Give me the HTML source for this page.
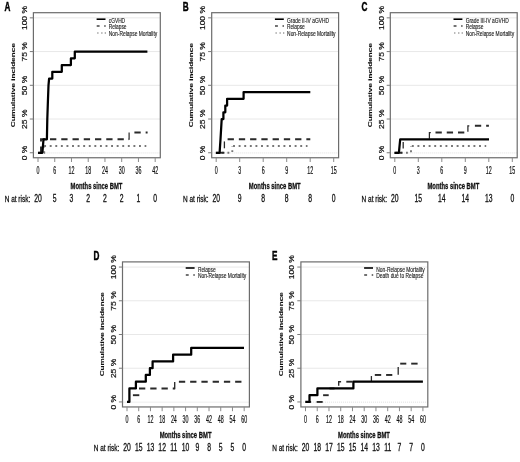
<!DOCTYPE html>
<html lang="en">
<head>
<meta charset="utf-8">
<title>Cumulative incidence curves</title>
<style>
html,body{margin:0;padding:0;background:#fff;}
body{width:520px;height:462px;overflow:hidden;}
svg{display:block;font-family:'Liberation Sans', Arial, sans-serif;filter:blur(0.7px);}
</style>
</head>
<body>
<svg width="520" height="462" viewBox="0 0 520 462">
<rect width="520" height="462" fill="#fff"/>
<g transform="translate(0,0)">
<line x1="33.4" x2="160.3" y1="119.03" y2="119.03" stroke="#e8e8e8" stroke-width="1"/>
<line x1="33.4" x2="160.3" y1="85.3" y2="85.3" stroke="#e8e8e8" stroke-width="1"/>
<line x1="33.4" x2="160.3" y1="51.58" y2="51.58" stroke="#e8e8e8" stroke-width="1"/>
<line x1="33.4" x2="160.3" y1="17.85" y2="17.85" stroke="#e8e8e8" stroke-width="1"/>
<line x1="33.4" x2="160.3" y1="152.95" y2="152.95" stroke="#dedede" stroke-width="1" stroke-dasharray="1 1"/>
<polyline points="38,152.75 44.2,152.75 44.2,146" fill="none" stroke="#767676" stroke-width="1.9" stroke-dasharray="1.9 3.69" stroke-dashoffset="-0.3"/>
<polyline points="44.15,146 146.3,146" fill="none" stroke="#767676" stroke-width="1.9" stroke-dasharray="1.9 3.68" stroke-dashoffset="0"/>
<polyline points="38,152.75 41,152.75 41,139.26 129.1,139.26" fill="none" stroke="#2a2a2a" stroke-width="1.9" stroke-dasharray="6.3 4.95" stroke-dashoffset="-3"/>
<polyline points="128.4,139.26 129.1,139.26 129.1,132.51" fill="none" stroke="#2a2a2a" stroke-width="1.2"/>
<polyline points="134.4,132.51 147.6,132.51" fill="none" stroke="#2a2a2a" stroke-width="1.9" stroke-dasharray="6.3 4.95" stroke-dashoffset="0"/>
<polyline points="38,152.75 42.4,152.75 43.5,139.26 46.9,139.26 47.3,119.03 48,98.79 48.5,85.3 49.1,78.56 52.3,78.56 52.3,71.81 61.8,71.81 61.8,65.06 70.9,65.06 70.9,58.32 74.8,58.32 74.8,51.58 147.4,51.58" fill="none" stroke="#000" stroke-width="2.25" stroke-linejoin="round"/>
<rect x="33.4" y="12.7" width="126.9" height="145.05" fill="none" stroke="#6c6c6c" stroke-width="1.2"/>
<line x1="29.8" x2="33.4" y1="152.75" y2="152.75" stroke="#7a7a7a" stroke-width="1"/>
<text transform="translate(26.6,152.95) rotate(-90) scale(1,0.95)" font-size="8.5" text-anchor="middle" stroke="#111" stroke-width="0.22" fill="#111">0 %</text>
<line x1="29.8" x2="33.4" y1="119.03" y2="119.03" stroke="#7a7a7a" stroke-width="1"/>
<text transform="translate(26.6,119.23) rotate(-90) scale(1,0.95)" font-size="8.5" text-anchor="middle" stroke="#111" stroke-width="0.22" fill="#111">25 %</text>
<line x1="29.8" x2="33.4" y1="85.3" y2="85.3" stroke="#7a7a7a" stroke-width="1"/>
<text transform="translate(26.6,85.5) rotate(-90) scale(1,0.95)" font-size="8.5" text-anchor="middle" stroke="#111" stroke-width="0.22" fill="#111">50 %</text>
<line x1="29.8" x2="33.4" y1="51.58" y2="51.58" stroke="#7a7a7a" stroke-width="1"/>
<text transform="translate(26.6,51.78) rotate(-90) scale(1,0.95)" font-size="8.5" text-anchor="middle" stroke="#111" stroke-width="0.22" fill="#111">75 %</text>
<line x1="29.8" x2="33.4" y1="17.85" y2="17.85" stroke="#7a7a7a" stroke-width="1"/>
<text transform="translate(26.6,18.05) rotate(-90) scale(1,0.95)" font-size="8.5" text-anchor="middle" stroke="#111" stroke-width="0.22" fill="#111">100 %</text>
<text transform="translate(15.1,85.1) rotate(-90) scale(1,0.76)" font-size="8.2" text-anchor="middle" font-weight="bold" stroke="#111" stroke-width="0.12" fill="#111">Cumulative incidence</text>
<line x1="38" x2="38" y1="157.75" y2="162" stroke="#8a8a8a" stroke-width="1"/>
<text transform="translate(38,173.7) scale(0.535,1)" font-size="10.0" text-anchor="middle" stroke="#111" stroke-width="0.22" fill="#111">0</text>
<line x1="54.74" x2="54.74" y1="157.75" y2="162" stroke="#8a8a8a" stroke-width="1"/>
<text transform="translate(54.74,173.7) scale(0.535,1)" font-size="10.0" text-anchor="middle" stroke="#111" stroke-width="0.22" fill="#111">6</text>
<line x1="71.48" x2="71.48" y1="157.75" y2="162" stroke="#8a8a8a" stroke-width="1"/>
<text transform="translate(71.48,173.7) scale(0.535,1)" font-size="10.0" text-anchor="middle" stroke="#111" stroke-width="0.22" fill="#111">12</text>
<line x1="88.22" x2="88.22" y1="157.75" y2="162" stroke="#8a8a8a" stroke-width="1"/>
<text transform="translate(88.22,173.7) scale(0.535,1)" font-size="10.0" text-anchor="middle" stroke="#111" stroke-width="0.22" fill="#111">18</text>
<line x1="104.96" x2="104.96" y1="157.75" y2="162" stroke="#8a8a8a" stroke-width="1"/>
<text transform="translate(104.96,173.7) scale(0.535,1)" font-size="10.0" text-anchor="middle" stroke="#111" stroke-width="0.22" fill="#111">24</text>
<line x1="121.7" x2="121.7" y1="157.75" y2="162" stroke="#8a8a8a" stroke-width="1"/>
<text transform="translate(121.7,173.7) scale(0.535,1)" font-size="10.0" text-anchor="middle" stroke="#111" stroke-width="0.22" fill="#111">30</text>
<line x1="138.44" x2="138.44" y1="157.75" y2="162" stroke="#8a8a8a" stroke-width="1"/>
<text transform="translate(138.44,173.7) scale(0.535,1)" font-size="10.0" text-anchor="middle" stroke="#111" stroke-width="0.22" fill="#111">36</text>
<line x1="155.18" x2="155.18" y1="157.75" y2="162" stroke="#8a8a8a" stroke-width="1"/>
<text transform="translate(155.18,173.7) scale(0.535,1)" font-size="10.0" text-anchor="middle" stroke="#111" stroke-width="0.22" fill="#111">42</text>
<text transform="translate(96.45,189) scale(0.66,1)" font-size="8.9" text-anchor="middle" font-weight="bold" stroke="#111" stroke-width="0.3" fill="#111">Months since BMT</text>
<text transform="translate(4.7,201.6) scale(0.66,1)" font-size="9.8" text-anchor="start" stroke="#111" stroke-width="0.3" fill="#111">N at risk:</text>
<text transform="translate(38,201.7) scale(0.68,1)" font-size="10.0" text-anchor="middle" stroke="#111" stroke-width="0.3" fill="#111">20</text>
<text transform="translate(54.74,201.7) scale(0.68,1)" font-size="10.0" text-anchor="middle" stroke="#111" stroke-width="0.3" fill="#111">5</text>
<text transform="translate(71.48,201.7) scale(0.68,1)" font-size="10.0" text-anchor="middle" stroke="#111" stroke-width="0.3" fill="#111">3</text>
<text transform="translate(88.22,201.7) scale(0.68,1)" font-size="10.0" text-anchor="middle" stroke="#111" stroke-width="0.3" fill="#111">2</text>
<text transform="translate(104.96,201.7) scale(0.68,1)" font-size="10.0" text-anchor="middle" stroke="#111" stroke-width="0.3" fill="#111">2</text>
<text transform="translate(121.7,201.7) scale(0.68,1)" font-size="10.0" text-anchor="middle" stroke="#111" stroke-width="0.3" fill="#111">2</text>
<text transform="translate(138.44,201.7) scale(0.68,1)" font-size="10.0" text-anchor="middle" stroke="#111" stroke-width="0.3" fill="#111">1</text>
<text transform="translate(155.18,201.7) scale(0.68,1)" font-size="10.0" text-anchor="middle" stroke="#111" stroke-width="0.3" fill="#111">0</text>
<text transform="translate(4.5,11.25) scale(0.62,1)" font-size="13.2" text-anchor="start" font-weight="bold" stroke="#000" stroke-width="0.5" fill="#000">A</text>
<line x1="96.6" x2="105.5" y1="19.2" y2="19.2" stroke="#000" stroke-width="1.6"/>
<text x="108.8" y="23.2" font-size="6.9" textLength="16.3" lengthAdjust="spacingAndGlyphs" fill="#222" stroke="#222" stroke-width="0.15">cGVHD</text>
<path d="M96.7 25.9H99.6M104.2 25.9H105.7" stroke="#444" stroke-width="1.5" fill="none"/>
<text x="108.8" y="29.0" font-size="6.9" textLength="17.7" lengthAdjust="spacingAndGlyphs" fill="#222" stroke="#222" stroke-width="0.15">Relapse</text>
<path d="M97.2 33.0h1.3M101.2 33.0h1.3M104.7 33.0h1.3" stroke="#999" stroke-width="1.3" fill="none"/>
<text x="108.8" y="35.7" font-size="6.9" textLength="48.4" lengthAdjust="spacingAndGlyphs" fill="#222" stroke="#222" stroke-width="0.15">Non-Relapse Mortality</text>
</g>
<g transform="translate(178.3,0)">
<line x1="33.4" x2="160.3" y1="119.03" y2="119.03" stroke="#e8e8e8" stroke-width="1"/>
<line x1="33.4" x2="160.3" y1="85.3" y2="85.3" stroke="#e8e8e8" stroke-width="1"/>
<line x1="33.4" x2="160.3" y1="51.58" y2="51.58" stroke="#e8e8e8" stroke-width="1"/>
<line x1="33.4" x2="160.3" y1="17.85" y2="17.85" stroke="#e8e8e8" stroke-width="1"/>
<line x1="33.4" x2="160.3" y1="152.95" y2="152.95" stroke="#dedede" stroke-width="1" stroke-dasharray="1 1"/>
<polyline points="37.9,152.75 54,152.75 54,146" fill="none" stroke="#767676" stroke-width="1.9" stroke-dasharray="1.9 3.69" stroke-dashoffset="-0.05"/>
<polyline points="54.75,146 129.2,146" fill="none" stroke="#767676" stroke-width="1.9" stroke-dasharray="1.9 3.7" stroke-dashoffset="0"/>
<polyline points="37.9,152.75 46.1,152.75" fill="none" stroke="#2a2a2a" stroke-width="1.9" stroke-dasharray="6.3 4.95" stroke-dashoffset="-2.41"/>
<polyline points="46.1,148.3 46.1,141.42" fill="none" stroke="#2a2a2a" stroke-width="1.3"/>
<polyline points="49.3,139.26 132,139.26" fill="none" stroke="#2a2a2a" stroke-width="1.9" stroke-dasharray="6.3 4.95" stroke-dashoffset="0"/>
<polyline points="37.5,152.75 41.3,152.75 42.2,139.26 43.4,119.03 45.1,119.03 45.1,112.28 47,112.28 47,105.53 48.8,105.53 48.8,98.79 65.3,98.79 65.3,92.05 132,92.05" fill="none" stroke="#000" stroke-width="2.25" stroke-linejoin="round"/>
<rect x="33.4" y="12.7" width="126.9" height="145.05" fill="none" stroke="#6c6c6c" stroke-width="1.2"/>
<line x1="29.8" x2="33.4" y1="152.75" y2="152.75" stroke="#7a7a7a" stroke-width="1"/>
<text transform="translate(26.6,152.95) rotate(-90) scale(1,0.95)" font-size="8.5" text-anchor="middle" stroke="#111" stroke-width="0.22" fill="#111">0 %</text>
<line x1="29.8" x2="33.4" y1="119.03" y2="119.03" stroke="#7a7a7a" stroke-width="1"/>
<text transform="translate(26.6,119.23) rotate(-90) scale(1,0.95)" font-size="8.5" text-anchor="middle" stroke="#111" stroke-width="0.22" fill="#111">25 %</text>
<line x1="29.8" x2="33.4" y1="85.3" y2="85.3" stroke="#7a7a7a" stroke-width="1"/>
<text transform="translate(26.6,85.5) rotate(-90) scale(1,0.95)" font-size="8.5" text-anchor="middle" stroke="#111" stroke-width="0.22" fill="#111">50 %</text>
<line x1="29.8" x2="33.4" y1="51.58" y2="51.58" stroke="#7a7a7a" stroke-width="1"/>
<text transform="translate(26.6,51.78) rotate(-90) scale(1,0.95)" font-size="8.5" text-anchor="middle" stroke="#111" stroke-width="0.22" fill="#111">75 %</text>
<line x1="29.8" x2="33.4" y1="17.85" y2="17.85" stroke="#7a7a7a" stroke-width="1"/>
<text transform="translate(26.6,18.05) rotate(-90) scale(1,0.95)" font-size="8.5" text-anchor="middle" stroke="#111" stroke-width="0.22" fill="#111">100 %</text>
<text transform="translate(15.1,85.1) rotate(-90) scale(1,0.76)" font-size="8.2" text-anchor="middle" font-weight="bold" stroke="#111" stroke-width="0.12" fill="#111">Cumulative incidence</text>
<line x1="37.9" x2="37.9" y1="157.75" y2="162" stroke="#8a8a8a" stroke-width="1"/>
<text transform="translate(37.9,173.7) scale(0.535,1)" font-size="10.0" text-anchor="middle" stroke="#111" stroke-width="0.22" fill="#111">0</text>
<line x1="61.4" x2="61.4" y1="157.75" y2="162" stroke="#8a8a8a" stroke-width="1"/>
<text transform="translate(61.4,173.7) scale(0.535,1)" font-size="10.0" text-anchor="middle" stroke="#111" stroke-width="0.22" fill="#111">3</text>
<line x1="84.9" x2="84.9" y1="157.75" y2="162" stroke="#8a8a8a" stroke-width="1"/>
<text transform="translate(84.9,173.7) scale(0.535,1)" font-size="10.0" text-anchor="middle" stroke="#111" stroke-width="0.22" fill="#111">6</text>
<line x1="108.4" x2="108.4" y1="157.75" y2="162" stroke="#8a8a8a" stroke-width="1"/>
<text transform="translate(108.4,173.7) scale(0.535,1)" font-size="10.0" text-anchor="middle" stroke="#111" stroke-width="0.22" fill="#111">9</text>
<line x1="131.9" x2="131.9" y1="157.75" y2="162" stroke="#8a8a8a" stroke-width="1"/>
<text transform="translate(131.9,173.7) scale(0.535,1)" font-size="10.0" text-anchor="middle" stroke="#111" stroke-width="0.22" fill="#111">12</text>
<line x1="155.4" x2="155.4" y1="157.75" y2="162" stroke="#8a8a8a" stroke-width="1"/>
<text transform="translate(155.4,173.7) scale(0.535,1)" font-size="10.0" text-anchor="middle" stroke="#111" stroke-width="0.22" fill="#111">15</text>
<text transform="translate(96.45,189) scale(0.66,1)" font-size="8.9" text-anchor="middle" font-weight="bold" stroke="#111" stroke-width="0.3" fill="#111">Months since BMT</text>
<text transform="translate(4.7,201.6) scale(0.66,1)" font-size="9.8" text-anchor="start" stroke="#111" stroke-width="0.3" fill="#111">N at risk:</text>
<text transform="translate(37.9,201.7) scale(0.68,1)" font-size="10.0" text-anchor="middle" stroke="#111" stroke-width="0.3" fill="#111">20</text>
<text transform="translate(61.4,201.7) scale(0.68,1)" font-size="10.0" text-anchor="middle" stroke="#111" stroke-width="0.3" fill="#111">9</text>
<text transform="translate(84.9,201.7) scale(0.68,1)" font-size="10.0" text-anchor="middle" stroke="#111" stroke-width="0.3" fill="#111">8</text>
<text transform="translate(108.4,201.7) scale(0.68,1)" font-size="10.0" text-anchor="middle" stroke="#111" stroke-width="0.3" fill="#111">8</text>
<text transform="translate(131.9,201.7) scale(0.68,1)" font-size="10.0" text-anchor="middle" stroke="#111" stroke-width="0.3" fill="#111">8</text>
<text transform="translate(155.4,201.7) scale(0.68,1)" font-size="10.0" text-anchor="middle" stroke="#111" stroke-width="0.3" fill="#111">0</text>
<text transform="translate(4.5,11.25) scale(0.62,1)" font-size="13.2" text-anchor="start" font-weight="bold" stroke="#000" stroke-width="0.5" fill="#000">B</text>
<line x1="96.6" x2="105.5" y1="19.2" y2="19.2" stroke="#000" stroke-width="1.6"/>
<text x="108.8" y="23.2" font-size="6.9" textLength="41.8" lengthAdjust="spacingAndGlyphs" fill="#222" stroke="#222" stroke-width="0.15">Grade II-IV aGVHD</text>
<path d="M96.7 25.9H99.6M104.2 25.9H105.7" stroke="#444" stroke-width="1.5" fill="none"/>
<text x="108.8" y="29.0" font-size="6.9" textLength="17.7" lengthAdjust="spacingAndGlyphs" fill="#222" stroke="#222" stroke-width="0.15">Relapse</text>
<path d="M97.2 33.0h1.3M101.2 33.0h1.3M104.7 33.0h1.3" stroke="#999" stroke-width="1.3" fill="none"/>
<text x="108.8" y="35.7" font-size="6.9" textLength="48.4" lengthAdjust="spacingAndGlyphs" fill="#222" stroke="#222" stroke-width="0.15">Non-Relapse Mortality</text>
</g>
<g transform="translate(356.9,0)">
<line x1="33.4" x2="160.3" y1="119.03" y2="119.03" stroke="#e8e8e8" stroke-width="1"/>
<line x1="33.4" x2="160.3" y1="85.3" y2="85.3" stroke="#e8e8e8" stroke-width="1"/>
<line x1="33.4" x2="160.3" y1="51.58" y2="51.58" stroke="#e8e8e8" stroke-width="1"/>
<line x1="33.4" x2="160.3" y1="17.85" y2="17.85" stroke="#e8e8e8" stroke-width="1"/>
<line x1="33.4" x2="160.3" y1="152.95" y2="152.95" stroke="#dedede" stroke-width="1" stroke-dasharray="1 1"/>
<polyline points="37.9,152.75 54.1,152.75 54.1,146" fill="none" stroke="#767676" stroke-width="1.9" stroke-dasharray="1.9 3.69" stroke-dashoffset="0"/>
<polyline points="54.95,146 129.3,146" fill="none" stroke="#767676" stroke-width="1.9" stroke-dasharray="1.9 3.7" stroke-dashoffset="0"/>
<polyline points="37.9,152.75 46.3,152.75" fill="none" stroke="#2a2a2a" stroke-width="1.9" stroke-dasharray="6.3 4.95" stroke-dashoffset="-1.35"/>
<polyline points="46.3,148.57 46.3,142.09" fill="none" stroke="#2a2a2a" stroke-width="1.3"/>
<polyline points="72.5,138.86 72.5,132.51 73.9,132.51" fill="none" stroke="#2a2a2a" stroke-width="1.25"/>
<polyline points="78.6,132.51 111,132.51" fill="none" stroke="#2a2a2a" stroke-width="1.9" stroke-dasharray="6.3 4.95" stroke-dashoffset="0"/>
<polyline points="111,131.71 111,125.77 112.4,125.77" fill="none" stroke="#2a2a2a" stroke-width="1.25"/>
<polyline points="118,125.77 132,125.77" fill="none" stroke="#2a2a2a" stroke-width="1.9" stroke-dasharray="6.3 4.95" stroke-dashoffset="0"/>
<polyline points="37.5,152.75 42,152.75 43.3,139.26 132.1,139.26" fill="none" stroke="#000" stroke-width="2.25" stroke-linejoin="round"/>
<rect x="33.4" y="12.7" width="126.9" height="145.05" fill="none" stroke="#6c6c6c" stroke-width="1.2"/>
<line x1="29.8" x2="33.4" y1="152.75" y2="152.75" stroke="#7a7a7a" stroke-width="1"/>
<text transform="translate(26.6,152.95) rotate(-90) scale(1,0.95)" font-size="8.5" text-anchor="middle" stroke="#111" stroke-width="0.22" fill="#111">0 %</text>
<line x1="29.8" x2="33.4" y1="119.03" y2="119.03" stroke="#7a7a7a" stroke-width="1"/>
<text transform="translate(26.6,119.23) rotate(-90) scale(1,0.95)" font-size="8.5" text-anchor="middle" stroke="#111" stroke-width="0.22" fill="#111">25 %</text>
<line x1="29.8" x2="33.4" y1="85.3" y2="85.3" stroke="#7a7a7a" stroke-width="1"/>
<text transform="translate(26.6,85.5) rotate(-90) scale(1,0.95)" font-size="8.5" text-anchor="middle" stroke="#111" stroke-width="0.22" fill="#111">50 %</text>
<line x1="29.8" x2="33.4" y1="51.58" y2="51.58" stroke="#7a7a7a" stroke-width="1"/>
<text transform="translate(26.6,51.78) rotate(-90) scale(1,0.95)" font-size="8.5" text-anchor="middle" stroke="#111" stroke-width="0.22" fill="#111">75 %</text>
<line x1="29.8" x2="33.4" y1="17.85" y2="17.85" stroke="#7a7a7a" stroke-width="1"/>
<text transform="translate(26.6,18.05) rotate(-90) scale(1,0.95)" font-size="8.5" text-anchor="middle" stroke="#111" stroke-width="0.22" fill="#111">100 %</text>
<text transform="translate(15.1,85.1) rotate(-90) scale(1,0.76)" font-size="8.2" text-anchor="middle" font-weight="bold" stroke="#111" stroke-width="0.12" fill="#111">Cumulative incidence</text>
<line x1="37.9" x2="37.9" y1="157.75" y2="162" stroke="#8a8a8a" stroke-width="1"/>
<text transform="translate(37.9,173.7) scale(0.535,1)" font-size="10.0" text-anchor="middle" stroke="#111" stroke-width="0.22" fill="#111">0</text>
<line x1="61.4" x2="61.4" y1="157.75" y2="162" stroke="#8a8a8a" stroke-width="1"/>
<text transform="translate(61.4,173.7) scale(0.535,1)" font-size="10.0" text-anchor="middle" stroke="#111" stroke-width="0.22" fill="#111">3</text>
<line x1="84.9" x2="84.9" y1="157.75" y2="162" stroke="#8a8a8a" stroke-width="1"/>
<text transform="translate(84.9,173.7) scale(0.535,1)" font-size="10.0" text-anchor="middle" stroke="#111" stroke-width="0.22" fill="#111">6</text>
<line x1="108.4" x2="108.4" y1="157.75" y2="162" stroke="#8a8a8a" stroke-width="1"/>
<text transform="translate(108.4,173.7) scale(0.535,1)" font-size="10.0" text-anchor="middle" stroke="#111" stroke-width="0.22" fill="#111">9</text>
<line x1="131.9" x2="131.9" y1="157.75" y2="162" stroke="#8a8a8a" stroke-width="1"/>
<text transform="translate(131.9,173.7) scale(0.535,1)" font-size="10.0" text-anchor="middle" stroke="#111" stroke-width="0.22" fill="#111">12</text>
<line x1="155.4" x2="155.4" y1="157.75" y2="162" stroke="#8a8a8a" stroke-width="1"/>
<text transform="translate(155.4,173.7) scale(0.535,1)" font-size="10.0" text-anchor="middle" stroke="#111" stroke-width="0.22" fill="#111">15</text>
<text transform="translate(96.45,189) scale(0.66,1)" font-size="8.9" text-anchor="middle" font-weight="bold" stroke="#111" stroke-width="0.3" fill="#111">Months since BMT</text>
<text transform="translate(4.7,201.6) scale(0.66,1)" font-size="9.8" text-anchor="start" stroke="#111" stroke-width="0.3" fill="#111">N at risk:</text>
<text transform="translate(37.9,201.7) scale(0.68,1)" font-size="10.0" text-anchor="middle" stroke="#111" stroke-width="0.3" fill="#111">20</text>
<text transform="translate(61.4,201.7) scale(0.68,1)" font-size="10.0" text-anchor="middle" stroke="#111" stroke-width="0.3" fill="#111">15</text>
<text transform="translate(84.9,201.7) scale(0.68,1)" font-size="10.0" text-anchor="middle" stroke="#111" stroke-width="0.3" fill="#111">14</text>
<text transform="translate(108.4,201.7) scale(0.68,1)" font-size="10.0" text-anchor="middle" stroke="#111" stroke-width="0.3" fill="#111">14</text>
<text transform="translate(131.9,201.7) scale(0.68,1)" font-size="10.0" text-anchor="middle" stroke="#111" stroke-width="0.3" fill="#111">13</text>
<text transform="translate(155.4,201.7) scale(0.68,1)" font-size="10.0" text-anchor="middle" stroke="#111" stroke-width="0.3" fill="#111">0</text>
<text transform="translate(4.5,11.25) scale(0.62,1)" font-size="13.2" text-anchor="start" font-weight="bold" stroke="#000" stroke-width="0.5" fill="#000">C</text>
<line x1="96.6" x2="105.5" y1="19.2" y2="19.2" stroke="#000" stroke-width="1.6"/>
<text x="108.8" y="23.2" font-size="6.9" textLength="43.0" lengthAdjust="spacingAndGlyphs" fill="#222" stroke="#222" stroke-width="0.15">Grade III-IV aGVHD</text>
<path d="M96.7 25.9H99.6M104.2 25.9H105.7" stroke="#444" stroke-width="1.5" fill="none"/>
<text x="108.8" y="29.0" font-size="6.9" textLength="17.7" lengthAdjust="spacingAndGlyphs" fill="#222" stroke="#222" stroke-width="0.15">Relapse</text>
<path d="M97.2 33.0h1.3M101.2 33.0h1.3M104.7 33.0h1.3" stroke="#999" stroke-width="1.3" fill="none"/>
<text x="108.8" y="35.7" font-size="6.9" textLength="48.4" lengthAdjust="spacingAndGlyphs" fill="#222" stroke="#222" stroke-width="0.15">Non-Relapse Mortality</text>
</g>
<g transform="translate(89.1,249.2)">
<line x1="33.4" x2="160.3" y1="119.03" y2="119.03" stroke="#e8e8e8" stroke-width="1"/>
<line x1="33.4" x2="160.3" y1="85.3" y2="85.3" stroke="#e8e8e8" stroke-width="1"/>
<line x1="33.4" x2="160.3" y1="51.58" y2="51.58" stroke="#e8e8e8" stroke-width="1"/>
<line x1="33.4" x2="160.3" y1="17.85" y2="17.85" stroke="#e8e8e8" stroke-width="1"/>
<line x1="33.4" x2="160.3" y1="152.95" y2="152.95" stroke="#dedede" stroke-width="1" stroke-dasharray="1 1"/>
<polyline points="43.8,146 50.2,146" fill="none" stroke="#2a2a2a" stroke-width="1.9"/>
<polyline points="49.9,139.26 85.6,139.26" fill="none" stroke="#2a2a2a" stroke-width="1.9" stroke-dasharray="6.3 4.95" stroke-dashoffset="0"/>
<polyline points="84.9,139.26 85.6,139.26 85.6,132.92" fill="none" stroke="#2a2a2a" stroke-width="1.35"/>
<polyline points="89.8,132.51 154.9,132.51" fill="none" stroke="#2a2a2a" stroke-width="1.9" stroke-dasharray="6.3 4.95" stroke-dashoffset="0"/>
<polyline points="37.9,152.75 40.3,152.75 40.3,139.26 46.8,139.26 46.8,132.51 56.7,132.51 56.7,125.77 60.8,125.77 60.8,119.03 63.5,119.03 63.5,112.28 84,112.28 84,105.53 102.1,105.53 102.1,98.79 154.9,98.79" fill="none" stroke="#000" stroke-width="2.25" stroke-linejoin="round"/>
<rect x="33.4" y="12.7" width="126.9" height="145.05" fill="none" stroke="#6c6c6c" stroke-width="1.2"/>
<line x1="29.8" x2="33.4" y1="152.75" y2="152.75" stroke="#7a7a7a" stroke-width="1"/>
<text transform="translate(26.6,152.95) rotate(-90) scale(1,0.95)" font-size="8.5" text-anchor="middle" stroke="#111" stroke-width="0.22" fill="#111">0 %</text>
<line x1="29.8" x2="33.4" y1="119.03" y2="119.03" stroke="#7a7a7a" stroke-width="1"/>
<text transform="translate(26.6,119.23) rotate(-90) scale(1,0.95)" font-size="8.5" text-anchor="middle" stroke="#111" stroke-width="0.22" fill="#111">25 %</text>
<line x1="29.8" x2="33.4" y1="85.3" y2="85.3" stroke="#7a7a7a" stroke-width="1"/>
<text transform="translate(26.6,85.5) rotate(-90) scale(1,0.95)" font-size="8.5" text-anchor="middle" stroke="#111" stroke-width="0.22" fill="#111">50 %</text>
<line x1="29.8" x2="33.4" y1="51.58" y2="51.58" stroke="#7a7a7a" stroke-width="1"/>
<text transform="translate(26.6,51.78) rotate(-90) scale(1,0.95)" font-size="8.5" text-anchor="middle" stroke="#111" stroke-width="0.22" fill="#111">75 %</text>
<line x1="29.8" x2="33.4" y1="17.85" y2="17.85" stroke="#7a7a7a" stroke-width="1"/>
<text transform="translate(26.6,18.05) rotate(-90) scale(1,0.95)" font-size="8.5" text-anchor="middle" stroke="#111" stroke-width="0.22" fill="#111">100 %</text>
<text transform="translate(15.1,85.1) rotate(-90) scale(1,0.76)" font-size="8.2" text-anchor="middle" font-weight="bold" stroke="#111" stroke-width="0.12" fill="#111">Cumulative incidence</text>
<line x1="37.9" x2="37.9" y1="157.75" y2="162" stroke="#8a8a8a" stroke-width="1"/>
<text transform="translate(37.9,173.7) scale(0.535,1)" font-size="10.0" text-anchor="middle" stroke="#111" stroke-width="0.22" fill="#111">0</text>
<line x1="49.62" x2="49.62" y1="157.75" y2="162" stroke="#8a8a8a" stroke-width="1"/>
<text transform="translate(49.62,173.7) scale(0.535,1)" font-size="10.0" text-anchor="middle" stroke="#111" stroke-width="0.22" fill="#111">6</text>
<line x1="61.34" x2="61.34" y1="157.75" y2="162" stroke="#8a8a8a" stroke-width="1"/>
<text transform="translate(61.34,173.7) scale(0.535,1)" font-size="10.0" text-anchor="middle" stroke="#111" stroke-width="0.22" fill="#111">12</text>
<line x1="73.05" x2="73.05" y1="157.75" y2="162" stroke="#8a8a8a" stroke-width="1"/>
<text transform="translate(73.05,173.7) scale(0.535,1)" font-size="10.0" text-anchor="middle" stroke="#111" stroke-width="0.22" fill="#111">18</text>
<line x1="84.77" x2="84.77" y1="157.75" y2="162" stroke="#8a8a8a" stroke-width="1"/>
<text transform="translate(84.77,173.7) scale(0.535,1)" font-size="10.0" text-anchor="middle" stroke="#111" stroke-width="0.22" fill="#111">24</text>
<line x1="96.49" x2="96.49" y1="157.75" y2="162" stroke="#8a8a8a" stroke-width="1"/>
<text transform="translate(96.49,173.7) scale(0.535,1)" font-size="10.0" text-anchor="middle" stroke="#111" stroke-width="0.22" fill="#111">30</text>
<line x1="108.21" x2="108.21" y1="157.75" y2="162" stroke="#8a8a8a" stroke-width="1"/>
<text transform="translate(108.21,173.7) scale(0.535,1)" font-size="10.0" text-anchor="middle" stroke="#111" stroke-width="0.22" fill="#111">36</text>
<line x1="119.93" x2="119.93" y1="157.75" y2="162" stroke="#8a8a8a" stroke-width="1"/>
<text transform="translate(119.93,173.7) scale(0.535,1)" font-size="10.0" text-anchor="middle" stroke="#111" stroke-width="0.22" fill="#111">42</text>
<line x1="131.64" x2="131.64" y1="157.75" y2="162" stroke="#8a8a8a" stroke-width="1"/>
<text transform="translate(131.64,173.7) scale(0.535,1)" font-size="10.0" text-anchor="middle" stroke="#111" stroke-width="0.22" fill="#111">48</text>
<line x1="143.36" x2="143.36" y1="157.75" y2="162" stroke="#8a8a8a" stroke-width="1"/>
<text transform="translate(143.36,173.7) scale(0.535,1)" font-size="10.0" text-anchor="middle" stroke="#111" stroke-width="0.22" fill="#111">54</text>
<line x1="155.08" x2="155.08" y1="157.75" y2="162" stroke="#8a8a8a" stroke-width="1"/>
<text transform="translate(155.08,173.7) scale(0.535,1)" font-size="10.0" text-anchor="middle" stroke="#111" stroke-width="0.22" fill="#111">60</text>
<text transform="translate(96.45,189) scale(0.66,1)" font-size="8.9" text-anchor="middle" font-weight="bold" stroke="#111" stroke-width="0.3" fill="#111">Months since BMT</text>
<text transform="translate(4.7,201.6) scale(0.66,1)" font-size="9.8" text-anchor="start" stroke="#111" stroke-width="0.3" fill="#111">N at risk:</text>
<text transform="translate(37.9,201.7) scale(0.68,1)" font-size="10.0" text-anchor="middle" stroke="#111" stroke-width="0.3" fill="#111">20</text>
<text transform="translate(49.62,201.7) scale(0.68,1)" font-size="10.0" text-anchor="middle" stroke="#111" stroke-width="0.3" fill="#111">15</text>
<text transform="translate(61.34,201.7) scale(0.68,1)" font-size="10.0" text-anchor="middle" stroke="#111" stroke-width="0.3" fill="#111">13</text>
<text transform="translate(73.05,201.7) scale(0.68,1)" font-size="10.0" text-anchor="middle" stroke="#111" stroke-width="0.3" fill="#111">12</text>
<text transform="translate(84.77,201.7) scale(0.68,1)" font-size="10.0" text-anchor="middle" stroke="#111" stroke-width="0.3" fill="#111">11</text>
<text transform="translate(96.49,201.7) scale(0.68,1)" font-size="10.0" text-anchor="middle" stroke="#111" stroke-width="0.3" fill="#111">10</text>
<text transform="translate(108.21,201.7) scale(0.68,1)" font-size="10.0" text-anchor="middle" stroke="#111" stroke-width="0.3" fill="#111">9</text>
<text transform="translate(119.93,201.7) scale(0.68,1)" font-size="10.0" text-anchor="middle" stroke="#111" stroke-width="0.3" fill="#111">8</text>
<text transform="translate(131.64,201.7) scale(0.68,1)" font-size="10.0" text-anchor="middle" stroke="#111" stroke-width="0.3" fill="#111">5</text>
<text transform="translate(143.36,201.7) scale(0.68,1)" font-size="10.0" text-anchor="middle" stroke="#111" stroke-width="0.3" fill="#111">5</text>
<text transform="translate(155.08,201.7) scale(0.68,1)" font-size="10.0" text-anchor="middle" stroke="#111" stroke-width="0.3" fill="#111">0</text>
<text transform="translate(4.5,11.25) scale(0.62,1)" font-size="13.2" text-anchor="start" font-weight="bold" stroke="#000" stroke-width="0.5" fill="#000">D</text>
<line x1="96.6" x2="105.5" y1="18.8" y2="18.8" stroke="#000" stroke-width="1.6"/>
<text x="108.8" y="22.7" font-size="6.9" textLength="17.7" lengthAdjust="spacingAndGlyphs" fill="#222" stroke="#222" stroke-width="0.15">Relapse</text>
<path d="M96.7 25.7H99.6M104.2 25.7H105.7" stroke="#444" stroke-width="1.5" fill="none"/>
<text x="108.8" y="28.6" font-size="6.9" textLength="48.4" lengthAdjust="spacingAndGlyphs" fill="#222" stroke="#222" stroke-width="0.15">Non-Relapse Mortality</text>
</g>
<g transform="translate(267.5,249.2)">
<line x1="33.4" x2="160.3" y1="119.03" y2="119.03" stroke="#e8e8e8" stroke-width="1"/>
<line x1="33.4" x2="160.3" y1="85.3" y2="85.3" stroke="#e8e8e8" stroke-width="1"/>
<line x1="33.4" x2="160.3" y1="51.58" y2="51.58" stroke="#e8e8e8" stroke-width="1"/>
<line x1="33.4" x2="160.3" y1="17.85" y2="17.85" stroke="#e8e8e8" stroke-width="1"/>
<line x1="33.4" x2="160.3" y1="152.95" y2="152.95" stroke="#dedede" stroke-width="1" stroke-dasharray="1 1"/>
<polyline points="38.3,152.75 43.6,152.75" fill="none" stroke="#2a2a2a" stroke-width="1.9"/>
<polyline points="49.1,152.75 55.2,152.75" fill="none" stroke="#2a2a2a" stroke-width="1.9"/>
<polyline points="55.6,146 61.2,146" fill="none" stroke="#2a2a2a" stroke-width="1.9"/>
<polyline points="62,139.26 67,139.26" fill="none" stroke="#2a2a2a" stroke-width="1.9"/>
<polyline points="71.2,136.56 71.2,132.51 73.6,132.51" fill="none" stroke="#2a2a2a" stroke-width="1.35"/>
<polyline points="78.8,132.51 85,132.51" fill="none" stroke="#2a2a2a" stroke-width="1.9"/>
<polyline points="103.9,132.11 103.9,126.85" fill="none" stroke="#2a2a2a" stroke-width="1.3"/>
<polyline points="107.3,125.77 113.7,125.77" fill="none" stroke="#2a2a2a" stroke-width="1.9"/>
<polyline points="118.6,125.77 124.8,125.77" fill="none" stroke="#2a2a2a" stroke-width="1.9"/>
<polyline points="130.7,125.5 130.7,117.68" fill="none" stroke="#2a2a2a" stroke-width="1.3"/>
<polyline points="132.7,114.44 138.8,114.44" fill="none" stroke="#2a2a2a" stroke-width="1.9"/>
<polyline points="143.7,114.44 150.1,114.44" fill="none" stroke="#2a2a2a" stroke-width="1.9"/>
<polyline points="37.8,152.75 42,152.75 42,146 49.9,146 49.9,139.26 85.9,139.26 85.9,132.51 155.4,132.51" fill="none" stroke="#000" stroke-width="2.25" stroke-linejoin="round"/>
<rect x="33.4" y="12.7" width="126.9" height="145.05" fill="none" stroke="#6c6c6c" stroke-width="1.2"/>
<line x1="29.8" x2="33.4" y1="152.75" y2="152.75" stroke="#7a7a7a" stroke-width="1"/>
<text transform="translate(26.6,152.95) rotate(-90) scale(1,0.95)" font-size="8.5" text-anchor="middle" stroke="#111" stroke-width="0.22" fill="#111">0 %</text>
<line x1="29.8" x2="33.4" y1="119.03" y2="119.03" stroke="#7a7a7a" stroke-width="1"/>
<text transform="translate(26.6,119.23) rotate(-90) scale(1,0.95)" font-size="8.5" text-anchor="middle" stroke="#111" stroke-width="0.22" fill="#111">25 %</text>
<line x1="29.8" x2="33.4" y1="85.3" y2="85.3" stroke="#7a7a7a" stroke-width="1"/>
<text transform="translate(26.6,85.5) rotate(-90) scale(1,0.95)" font-size="8.5" text-anchor="middle" stroke="#111" stroke-width="0.22" fill="#111">50 %</text>
<line x1="29.8" x2="33.4" y1="51.58" y2="51.58" stroke="#7a7a7a" stroke-width="1"/>
<text transform="translate(26.6,51.78) rotate(-90) scale(1,0.95)" font-size="8.5" text-anchor="middle" stroke="#111" stroke-width="0.22" fill="#111">75 %</text>
<line x1="29.8" x2="33.4" y1="17.85" y2="17.85" stroke="#7a7a7a" stroke-width="1"/>
<text transform="translate(26.6,18.05) rotate(-90) scale(1,0.95)" font-size="8.5" text-anchor="middle" stroke="#111" stroke-width="0.22" fill="#111">100 %</text>
<text transform="translate(15.1,85.1) rotate(-90) scale(1,0.76)" font-size="8.2" text-anchor="middle" font-weight="bold" stroke="#111" stroke-width="0.12" fill="#111">Cumulative incidence</text>
<line x1="38" x2="38" y1="157.75" y2="162" stroke="#8a8a8a" stroke-width="1"/>
<text transform="translate(38,173.7) scale(0.535,1)" font-size="10.0" text-anchor="middle" stroke="#111" stroke-width="0.22" fill="#111">0</text>
<line x1="49.74" x2="49.74" y1="157.75" y2="162" stroke="#8a8a8a" stroke-width="1"/>
<text transform="translate(49.74,173.7) scale(0.535,1)" font-size="10.0" text-anchor="middle" stroke="#111" stroke-width="0.22" fill="#111">6</text>
<line x1="61.48" x2="61.48" y1="157.75" y2="162" stroke="#8a8a8a" stroke-width="1"/>
<text transform="translate(61.48,173.7) scale(0.535,1)" font-size="10.0" text-anchor="middle" stroke="#111" stroke-width="0.22" fill="#111">12</text>
<line x1="73.23" x2="73.23" y1="157.75" y2="162" stroke="#8a8a8a" stroke-width="1"/>
<text transform="translate(73.23,173.7) scale(0.535,1)" font-size="10.0" text-anchor="middle" stroke="#111" stroke-width="0.22" fill="#111">18</text>
<line x1="84.97" x2="84.97" y1="157.75" y2="162" stroke="#8a8a8a" stroke-width="1"/>
<text transform="translate(84.97,173.7) scale(0.535,1)" font-size="10.0" text-anchor="middle" stroke="#111" stroke-width="0.22" fill="#111">24</text>
<line x1="96.71" x2="96.71" y1="157.75" y2="162" stroke="#8a8a8a" stroke-width="1"/>
<text transform="translate(96.71,173.7) scale(0.535,1)" font-size="10.0" text-anchor="middle" stroke="#111" stroke-width="0.22" fill="#111">30</text>
<line x1="108.45" x2="108.45" y1="157.75" y2="162" stroke="#8a8a8a" stroke-width="1"/>
<text transform="translate(108.45,173.7) scale(0.535,1)" font-size="10.0" text-anchor="middle" stroke="#111" stroke-width="0.22" fill="#111">36</text>
<line x1="120.19" x2="120.19" y1="157.75" y2="162" stroke="#8a8a8a" stroke-width="1"/>
<text transform="translate(120.19,173.7) scale(0.535,1)" font-size="10.0" text-anchor="middle" stroke="#111" stroke-width="0.22" fill="#111">42</text>
<line x1="131.94" x2="131.94" y1="157.75" y2="162" stroke="#8a8a8a" stroke-width="1"/>
<text transform="translate(131.94,173.7) scale(0.535,1)" font-size="10.0" text-anchor="middle" stroke="#111" stroke-width="0.22" fill="#111">48</text>
<line x1="143.68" x2="143.68" y1="157.75" y2="162" stroke="#8a8a8a" stroke-width="1"/>
<text transform="translate(143.68,173.7) scale(0.535,1)" font-size="10.0" text-anchor="middle" stroke="#111" stroke-width="0.22" fill="#111">54</text>
<line x1="155.42" x2="155.42" y1="157.75" y2="162" stroke="#8a8a8a" stroke-width="1"/>
<text transform="translate(155.42,173.7) scale(0.535,1)" font-size="10.0" text-anchor="middle" stroke="#111" stroke-width="0.22" fill="#111">60</text>
<text transform="translate(96.45,189) scale(0.66,1)" font-size="8.9" text-anchor="middle" font-weight="bold" stroke="#111" stroke-width="0.3" fill="#111">Months since BMT</text>
<text transform="translate(4.7,201.6) scale(0.66,1)" font-size="9.8" text-anchor="start" stroke="#111" stroke-width="0.3" fill="#111">N at risk:</text>
<text transform="translate(38,201.7) scale(0.68,1)" font-size="10.0" text-anchor="middle" stroke="#111" stroke-width="0.3" fill="#111">20</text>
<text transform="translate(49.74,201.7) scale(0.68,1)" font-size="10.0" text-anchor="middle" stroke="#111" stroke-width="0.3" fill="#111">18</text>
<text transform="translate(61.48,201.7) scale(0.68,1)" font-size="10.0" text-anchor="middle" stroke="#111" stroke-width="0.3" fill="#111">17</text>
<text transform="translate(73.23,201.7) scale(0.68,1)" font-size="10.0" text-anchor="middle" stroke="#111" stroke-width="0.3" fill="#111">15</text>
<text transform="translate(84.97,201.7) scale(0.68,1)" font-size="10.0" text-anchor="middle" stroke="#111" stroke-width="0.3" fill="#111">15</text>
<text transform="translate(96.71,201.7) scale(0.68,1)" font-size="10.0" text-anchor="middle" stroke="#111" stroke-width="0.3" fill="#111">14</text>
<text transform="translate(108.45,201.7) scale(0.68,1)" font-size="10.0" text-anchor="middle" stroke="#111" stroke-width="0.3" fill="#111">13</text>
<text transform="translate(120.19,201.7) scale(0.68,1)" font-size="10.0" text-anchor="middle" stroke="#111" stroke-width="0.3" fill="#111">11</text>
<text transform="translate(131.94,201.7) scale(0.68,1)" font-size="10.0" text-anchor="middle" stroke="#111" stroke-width="0.3" fill="#111">7</text>
<text transform="translate(143.68,201.7) scale(0.68,1)" font-size="10.0" text-anchor="middle" stroke="#111" stroke-width="0.3" fill="#111">7</text>
<text transform="translate(155.42,201.7) scale(0.68,1)" font-size="10.0" text-anchor="middle" stroke="#111" stroke-width="0.3" fill="#111">0</text>
<text transform="translate(4.5,11.25) scale(0.62,1)" font-size="13.2" text-anchor="start" font-weight="bold" stroke="#000" stroke-width="0.5" fill="#000">E</text>
<line x1="96.6" x2="105.5" y1="18.8" y2="18.8" stroke="#000" stroke-width="1.6"/>
<text x="108.8" y="22.7" font-size="6.9" textLength="48.4" lengthAdjust="spacingAndGlyphs" fill="#222" stroke="#222" stroke-width="0.15">Non-Relapse Mortality</text>
<path d="M96.7 25.7H99.6M104.2 25.7H105.7" stroke="#444" stroke-width="1.5" fill="none"/>
<text x="108.8" y="28.6" font-size="6.9" textLength="47.1" lengthAdjust="spacingAndGlyphs" fill="#222" stroke="#222" stroke-width="0.15">Death due to Relapse</text>
</g>
</svg>
</body>
</html>
